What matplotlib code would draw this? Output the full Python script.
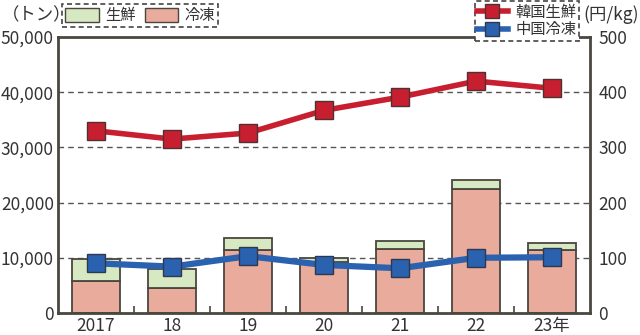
import matplotlib
matplotlib.use('Agg')
import matplotlib.pyplot as plt
from matplotlib.patches import Patch
from matplotlib.lines import Line2D
import numpy as np

plt.rcParams['font.family'] = ['Noto Sans CJK JP', 'DejaVu Sans']

years = ['2017', '18', '19', '20', '21', '22', '23年']
frozen = [5850, 4450, 11400, 9200, 11550, 22400, 11400]
fresh = [3900, 3600, 2250, 700, 1550, 1700, 1250]
korea_fresh = [330, 315, 326, 367, 391, 420, 407]
china_frozen = [90, 84, 103, 87, 81, 100, 101]

c_fresh = '#d6e9c2'
c_frozen = '#e9ab9b'
c_red = '#c81f30'
c_blue = '#2a62b0'
c_edge = '#4a4640'
c_text = '#333333'

fig = plt.figure(figsize=(6.4, 3.35), dpi=100)
ax = fig.add_axes([0.0906, 0.0657, 0.8314, 0.824])
x = np.arange(len(years))

ax.bar(x, frozen, width=0.63, color=c_frozen, edgecolor=c_edge, linewidth=1.3, zorder=2)
ax.bar(x, fresh, bottom=frozen, width=0.63, color=c_fresh, edgecolor=c_edge, linewidth=1.3, zorder=2)

ax.set_xlim(-0.5, 6.5)
ax.set_ylim(0, 50000)
ax.set_yticks(range(0, 50001, 10000))
ax.set_yticklabels(['0', '10,000', '20,000', '30,000', '40,000', '50,000'])
for v in range(10000, 50000, 10000):
    ax.axhline(v, color='#555555', linestyle=(0, (4, 3)), linewidth=1, zorder=1)
ax.set_xticks(x)
ax.set_xticklabels(years)
ax.set_xticks(np.arange(0.5, 6.5, 1), minor=True)
ax.tick_params(axis='x', which='major', length=0, labelsize=12.5, colors=c_text, pad=3)
ax.tick_params(axis='x', which='minor', direction='in', length=5, width=1.2, color=c_edge)
ax.tick_params(axis='y', length=0, labelsize=12.5, colors=c_text, pad=3)
for s in ax.spines.values():
    s.set_color(c_edge)
    s.set_linewidth(2)

ax2 = ax.twinx()
ax2.set_ylim(0, 500)
ax2.set_yticks(range(0, 501, 100))
ax2.tick_params(axis='y', length=0, labelsize=12.5, colors=c_text, pad=6)
for s in ax2.spines.values():
    s.set_visible(False)

ax2.plot(x, korea_fresh, color=c_red, linewidth=4, marker='s', markersize=12.5,
         markerfacecolor=c_red, markeredgecolor='#503030', markeredgewidth=1, zorder=3)
ax2.plot(x, china_frozen, color=c_blue, linewidth=4.5, marker='s', markersize=12.5,
         markerfacecolor=c_blue, markeredgecolor='#303850', markeredgewidth=1, zorder=3)

fig.text(0.003, 0.955, '（トン）', fontsize=12.5, color=c_text, va='center', ha='left')
fig.text(0.999, 0.955, '(円/kg)', fontsize=12.5, color=c_text, va='center', ha='right')

h1 = [Patch(facecolor=c_fresh, edgecolor=c_edge, label='生鮮'),
      Patch(facecolor=c_frozen, edgecolor=c_edge, label='冷凍')]
leg1 = fig.legend(handles=h1, loc='upper left', bbox_to_anchor=(0.097, 0.988), ncol=2,
                  fontsize=11, frameon=True, fancybox=False, framealpha=1,
                  edgecolor='#444444', handlelength=2.2, handleheight=1.0,
                  columnspacing=0.6, handletextpad=0.4, borderpad=0.2,
                  borderaxespad=0, labelcolor=c_text)
leg1.get_frame().set_linestyle((0, (3, 2)))
leg1.get_frame().set_linewidth(1.2)

h2 = [Line2D([], [], color=c_red, linewidth=4, marker='s', markersize=10,
             markeredgecolor='#503030', label='韓国生鮮'),
      Line2D([], [], color=c_blue, linewidth=4, marker='s', markersize=10,
             markeredgecolor='#303850', label='中国冷凍')]
leg2 = fig.legend(handles=h2, loc='upper right', bbox_to_anchor=(0.904, 0.996), ncol=1,
                  fontsize=11, frameon=True, fancybox=False, framealpha=1,
                  edgecolor='#444444', handlelength=2.0, handletextpad=0.5,
                  borderpad=0.15, labelspacing=0.05, borderaxespad=0,
                  labelcolor=c_text)
leg2.get_frame().set_linestyle((0, (3, 2)))
leg2.get_frame().set_linewidth(1.2)

fig.savefig('out.png', dpi=100)
